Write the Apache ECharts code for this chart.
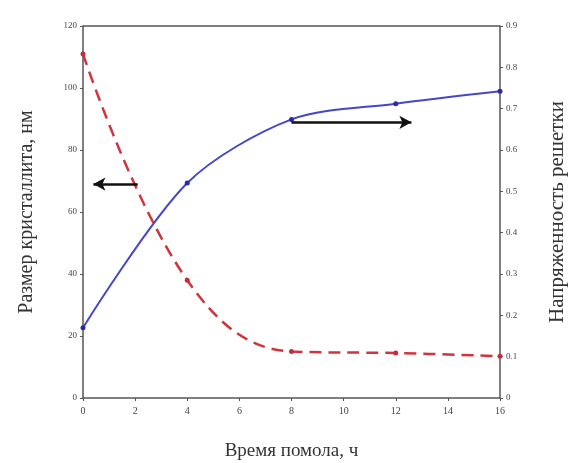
<!DOCTYPE html>
<html>
<head>
<meta charset="utf-8">
<script src="https://cdn.jsdelivr.net/npm/echarts@6/dist/echarts.min.js"></script>
<style>
  html, body { margin: 0; padding: 0; background: #fff; }
  #chart { width: 586px; height: 463px; }
</style>
</head>
<body>
<div id="chart"></div>
<script>
// milling time, h
const hours = [0, 4, 8, 12, 16]
// crystallite size, nm (left axis)
const crystalSize = [111, 38, 15, 14.5, 13.5]
// lattice strain (right axis)
const latticeStrain = [0.17, 0.52, 0.674, 0.712, 0.742]
// arrow endpoints [x, y] in data units
const leftArrow = [[2.1, 69], [0.4, 69]]
const rightArrow = [[8, 0.667], [12.6, 0.667]]

const serif = 'Liberation Serif'
const axisColor = '#555'
const labelColor = '#444'

const chart = echarts.init(document.getElementById('chart'))

const option = {
  animation: false,
  backgroundColor: '#fff',
  grid: { left: 83, right: 86, top: 26, bottom: 65, outerBoundsMode: 'none' },
  xAxis: {
    type: 'value',
    min: 0,
    max: 16,
    interval: 2,
    name: 'Время помола, ч',
    nameLocation: 'middle',
    nameGap: 44,
    nameTextStyle: { fontFamily: serif, fontSize: 19, color: '#333' },
    axisLine: { lineStyle: { color: axisColor, width: 1.5 } },
    axisTick: { show: true, length: 3, lineStyle: { color: axisColor } },
    axisLabel: { fontFamily: serif, fontSize: 10, color: labelColor, margin: 8 },
    splitLine: { show: false },
  },
  yAxis: [
    {
      type: 'value',
      min: 0,
      max: 120,
      interval: 20,
      position: 'left',
      name: 'Размер кристаллита, нм',
      nameLocation: 'middle',
      nameRotate: 90,
      nameGap: 46,
      nameTextStyle: { fontFamily: serif, fontSize: 20, color: '#333' },
      axisLine: { show: true, lineStyle: { color: axisColor, width: 1.5 } },
      axisTick: { show: true, length: 3, lineStyle: { color: axisColor } },
      axisLabel: { fontFamily: serif, fontSize: 9, color: labelColor, margin: 6 },
      splitLine: { show: false },
    },
    {
      type: 'value',
      min: 0,
      max: 0.9,
      interval: 0.1,
      position: 'right',
      name: 'Напряженность решетки',
      nameLocation: 'middle',
      nameRotate: 90,
      nameGap: 47,
      nameTextStyle: { fontFamily: serif, fontSize: 21, color: '#333' },
      axisLine: { show: true, lineStyle: { color: axisColor, width: 1.5 } },
      axisTick: { show: true, length: 3, lineStyle: { color: axisColor } },
      axisLabel: {
        fontFamily: serif, fontSize: 9, color: labelColor, margin: 6,
        formatter: (v) => (v === 0 ? '0' : v.toFixed(1)),
      },
      splitLine: { show: false },
    },
  ],
  series: [
    {
      type: 'line',
      yAxisIndex: 0,
      data: hours.map((h, i) => [h, crystalSize[i]]),
      smooth: 0.4,
      symbol: 'circle',
      symbolSize: 5,
      itemStyle: { color: '#c0303a' },
      lineStyle: { color: '#d0343c', width: 2.5, type: [12, 7] },
      markLine: {
        silent: true,
        symbol: ['none', 'arrow'],
        symbolSize: [10, 12],
        label: { show: false },
        lineStyle: { color: '#111', width: 2.5, type: 'solid' },
        data: [[{ coord: leftArrow[0] }, { coord: leftArrow[1] }]],
      },
      z: 2,
    },
    {
      type: 'line',
      yAxisIndex: 1,
      data: hours.map((h, i) => [h, latticeStrain[i]]),
      smooth: 0.3,
      symbol: 'circle',
      symbolSize: 5,
      itemStyle: { color: '#2a2aa8' },
      lineStyle: { color: '#4646c8', width: 2 },
      markLine: {
        silent: true,
        symbol: ['none', 'arrow'],
        symbolSize: [10, 12],
        label: { show: false },
        lineStyle: { color: '#111', width: 2.5, type: 'solid' },
        data: [[{ coord: rightArrow[0] }, { coord: rightArrow[1] }]],
      },
      z: 3,
    },
  ],
  graphic: [
    {
      // top frame line of the plot box
      type: 'line',
      shape: { x1: 83, y1: 26, x2: 500, y2: 26 },
      style: { stroke: axisColor, lineWidth: 1.5 },
    },
  ],
}

chart.setOption(option)
</script>
</body>
</html>
